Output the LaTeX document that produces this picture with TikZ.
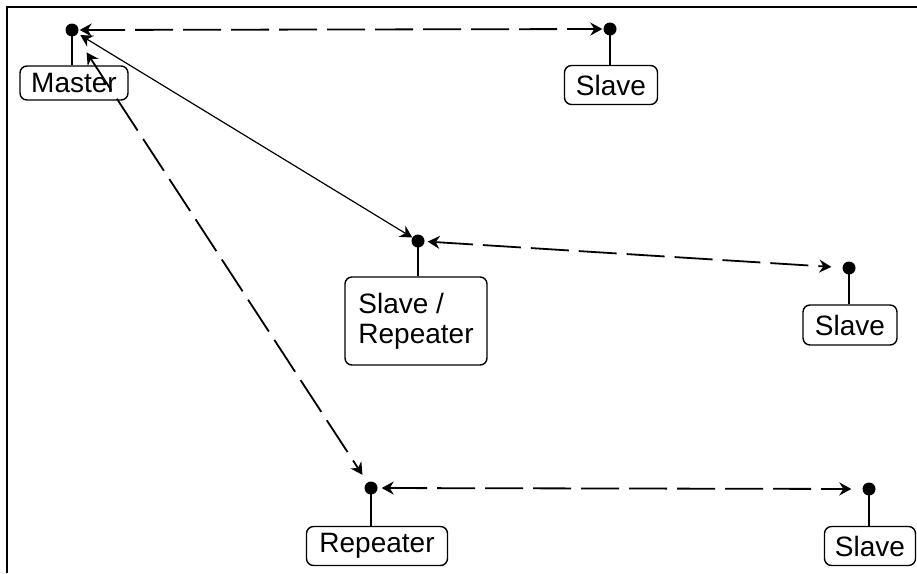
\documentclass[tikz,border=0pt]{standalone}
\usepackage{fontspec}
\setmainfont{Liberation Sans}
\usetikzlibrary{arrows.meta,positioning}

\begin{document}
\begin{tikzpicture}[x=1pt,y=-1pt,
  dot/.style={circle,fill,inner sep=0pt,minimum size=13pt},
  box/.style={draw,rounded corners=7pt,line width=1.4pt,inner sep=0pt,font=\fontsize{28}{30}\selectfont},
  stem/.style={line width=1.6pt},
  tip/.style={{Stealth[length=12pt,width=13pt,inset=4pt]}-{Stealth[length=12pt,width=13pt,inset=4pt]}},
  link/.style={tip,line width=1.8pt,dash pattern=on 38pt off 10pt},
  wire/.style={tip,line width=1.2pt}]
\useasboundingbox (0,0) rectangle (917,573);
\draw[line width=2.5pt] (7,573) -- (7,7) -- (917,7);
% dots
\node[dot] (m) at (72,30) {};
\node[dot] (s1) at (610,29) {};
\node[dot] (sr) at (418,241) {};
\node[dot] (s2) at (849,268) {};
\node[dot] (r) at (371,488) {};
\node[dot] (s3) at (869,489) {};
% boxes
\node[box,minimum width=108pt,minimum height=34pt] (mbox) at (74,83) {Master};
\node[box,minimum width=93pt,minimum height=39pt] (s1box) at (611,85) {Slave};
\node[box,minimum width=142pt,minimum height=88pt,align=left] (srbox) at (416,321) {Slave /\\Repeater};
\node[box,minimum width=94pt,minimum height=40pt] (s2box) at (850,325) {Slave};
\node[box,minimum width=141pt,minimum height=39pt] (rbox) at (377,546) {Repeater};
\node[box,minimum width=91pt,minimum height=39pt] (s3box) at (870,546) {Slave};
% stems
\draw[stem] (m.center) -- (m.center |- mbox.north);
\draw[stem] (s1.center) -- (s1.center |- s1box.north);
\draw[stem] (sr.center) -- (sr.center |- srbox.north);
\draw[stem] (s2.center) -- (s2.center |- s2box.north);
\draw[stem] (r.center) -- (r.center |- rbox.north);
\draw[stem] (s3.center) -- (s3.center |- s3box.north);
% links
\draw[link,shorten <=1pt,shorten >=1pt] (m) -- (s1);
\draw[wire,shorten <=3pt] (m) -- (sr);
\draw[link,shorten <=20pt,shorten >=9pt] (m) -- (r);
\draw[link,shorten <=3pt,shorten >=11pt] (sr) -- (s2);
\draw[link,shorten <=4pt,shorten >=11pt] (r) -- (s3);
\end{tikzpicture}
\end{document}
